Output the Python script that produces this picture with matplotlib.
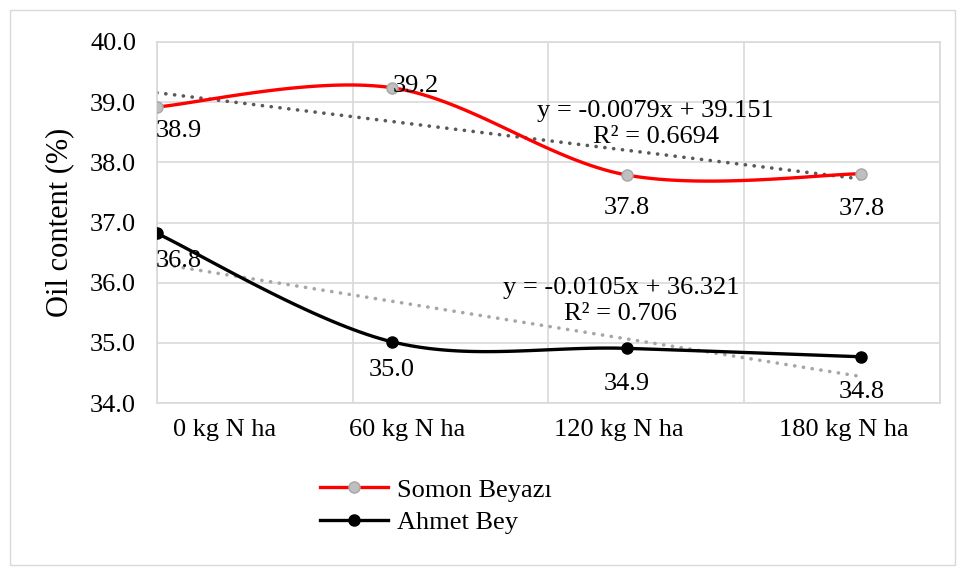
import numpy as np
import matplotlib
matplotlib.use("Agg")
from matplotlib import pyplot as plt
from matplotlib.patches import Rectangle

plt.rcParams['font.family'] = ['Liberation Serif', 'DejaVu Serif']

# data
n_rates = [0, 60, 120, 180]
somon = [38.92, 39.24, 37.79, 37.81]
ahmet = [36.82, 35.02, 34.91, 34.77]
category_labels = ['0 kg N ha', '60 kg N ha', '120 kg N ha', '180 kg N ha']
category_pos = [17.4, 63.8, 118.0, 175.4]

FS = 19


def excel_smooth(xs, ys, steps=40):
    # catmull-rom style bezier like excel "smoothed line"
    p = np.column_stack([xs, ys]).astype(float)
    n = len(p)
    out = []
    for i in range(n - 1):
        p0 = p[i - 1] if i > 0 else p[i]
        p1 = p[i]
        p2 = p[i + 1]
        p3 = p[i + 2] if i + 2 < n else p[i + 1]
        c1 = p1 + (p2 - p0) / 6.0
        c2 = p2 - (p3 - p1) / 6.0
        t = np.linspace(0, 1, steps)[:, None]
        seg = ((1 - t) ** 3) * p1 + 3 * ((1 - t) ** 2) * t * c1 + 3 * (1 - t) * t ** 2 * c2 + t ** 3 * p2
        out.append(seg if i == 0 else seg[1:])
    out = np.vstack(out)
    return out[:, 0], out[:, 1]


fig = plt.figure(figsize=(9.57, 5.67), dpi=100)
fig.patches.append(Rectangle((10 / 957, 2 / 567), 945 / 957, 555 / 567, transform=fig.transFigure,
                             fill=False, edgecolor='#D9D9D9', linewidth=1))
ax = fig.add_axes([0.164, 0.289, 0.818, 0.637])

grid_c = '#D9D9D9'
ax.set_xlim(0, 200)
ax.set_ylim(34, 40)
ax.set_xticks([0, 50, 100, 150, 200])
ax.set_yticks(np.arange(34, 40.01, 1))
ax.set_yticklabels(['%.1f' % v for v in np.arange(34, 40.01, 1)])
ax.set_xticklabels([])
ax.grid(True, color=grid_c, linewidth=1.2)
ax.set_axisbelow(True)
for s in ax.spines.values():
    s.set_color(grid_c)
    s.set_linewidth(1.2)
ax.tick_params(length=0, labelsize=FS, pad=15)

x = np.array(n_rates, dtype=float)

# trendlines
for ys, col in [(somon, '#595959'), (ahmet, '#A6A6A6')]:
    k, b = np.polyfit(x, ys, 1)
    ax.plot([0, 180], [b, b + k * 180], color=col, linewidth=2.6, linestyle=(0, (0.05, 2.4)),
            dash_capstyle='round', zorder=2)

sx, sy = excel_smooth(x, somon)
ax.plot(sx, sy, color='#FF0000', linewidth=2.4, zorder=3)
ax.plot(x, somon, linestyle='none', marker='o', markersize=8, markerfacecolor='#BFBFBF',
        markeredgecolor='#A6A6A6', zorder=4)
ax_, ay_ = excel_smooth(x, ahmet)
ax.plot(ax_, ay_, color='black', linewidth=2.4, zorder=3)
ax.plot(x, ahmet, linestyle='none', marker='o', markersize=8, color='black', zorder=4)

# legend proxies
l1, = ax.plot([], [], color='#FF0000', linewidth=2.4, marker='o', markersize=8,
              markerfacecolor='#BFBFBF', markeredgecolor='#A6A6A6')
l2, = ax.plot([], [], color='black', linewidth=2.4, marker='o', markersize=8)
fig.legend([l1, l2], ['Somon Beyazı', 'Ahmet Bey'], loc='center left',
           bbox_to_anchor=(309 / 957, 1 - 506 / 567), frameon=False, fontsize=FS,
           handlelength=2.6, handletextpad=0.35, labelspacing=0.33, borderaxespad=0)

# data labels
lab = dict(fontsize=FS, zorder=5)
ax.annotate('%.1f' % somon[0], (x[0], somon[0]), xytext=(-1, -17), textcoords='offset points',
            ha='left', va='center', **lab)
ax.annotate('%.1f' % somon[1], (x[1], somon[1]), xytext=(1, 1), textcoords='offset points',
            ha='left', va='center', **lab)
ax.annotate('%.1f' % somon[2], (x[2], somon[2]), xytext=(0, -24), textcoords='offset points',
            ha='center', va='center', **lab)
ax.annotate('%.1f' % somon[3], (x[3], somon[3]), xytext=(0, -25), textcoords='offset points',
            ha='center', va='center', **lab)
ax.annotate('%.1f' % ahmet[0], (x[0], ahmet[0]), xytext=(-1, -20), textcoords='offset points',
            ha='left', va='center', **lab)
ax.annotate('%.1f' % ahmet[1], (x[1], ahmet[1]), xytext=(0, -20), textcoords='offset points',
            ha='center', va='center', **lab)
ax.annotate('%.1f' % ahmet[2], (x[2], ahmet[2]), xytext=(0, -26), textcoords='offset points',
            ha='center', va='center', **lab)
ax.annotate('%.1f' % ahmet[3], (x[3], ahmet[3]), xytext=(0, -25), textcoords='offset points',
            ha='center', va='center', **lab)

# trendline equations
ax.text(127.4, 38.64, 'y = -0.0079x + 39.151\nR² = 0.6694', fontsize=FS, ha='center', va='center',
        linespacing=1.25, zorder=5)
ax.text(118.5, 35.70, 'y = -0.0105x + 36.321\nR² = 0.706', fontsize=FS, ha='center', va='center',
        linespacing=1.25, zorder=5)

# category labels
for pos, txt in zip(category_pos, category_labels):
    ax.text(pos, 33.55, txt, fontsize=FS, ha='center', va='center')

fig.text(60 / 957, 1 - 222 / 567, 'Oil content (%)', rotation=90, fontsize=22,
         ha='center', va='center')

fig.savefig('out.png', dpi=100)
